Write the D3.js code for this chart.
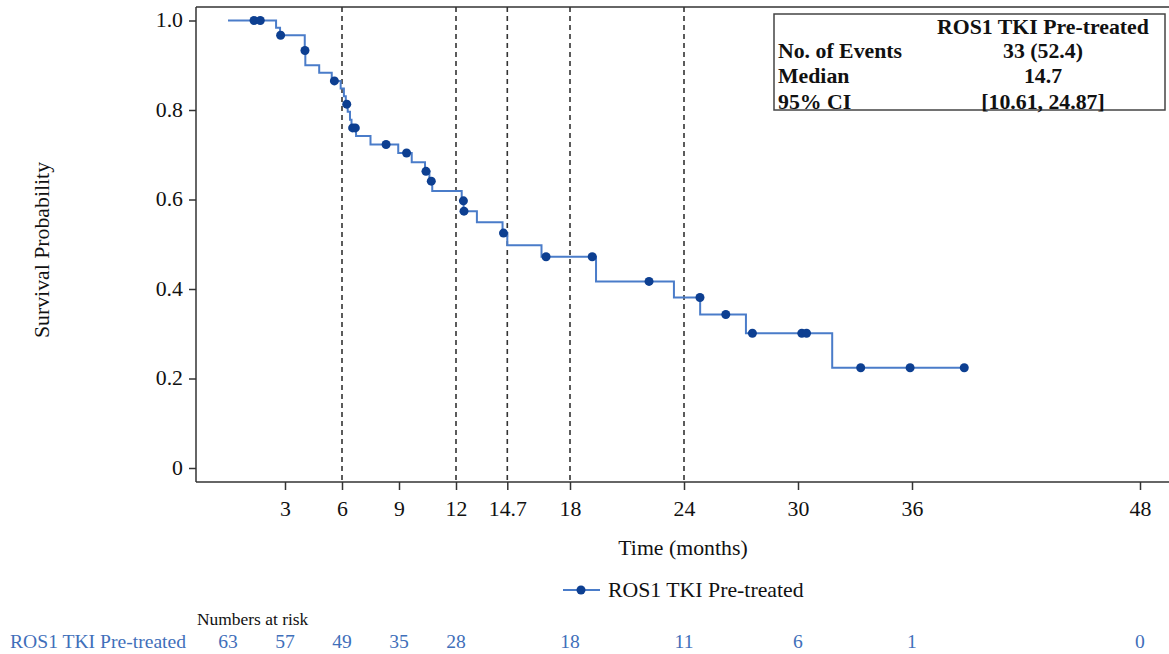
<!DOCTYPE html>
<html>
<head>
<meta charset="utf-8">
<script src="https://cdn.jsdelivr.net/npm/d3@7"></script>
<style>
  html, body { margin: 0; padding: 0; background: #fff; }
  text { font-family: "Liberation Serif", "Times New Roman", serif; }
</style>
</head>
<body>
<svg id="chart" width="1169" height="654"></svg>
<script>
// ---------- data ----------
const seriesName = "ROS1 TKI Pre-treated";
const eventTimes = [2.53, 2.74, 4.04, 4.07, 4.80, 5.46, 5.93, 6.10, 6.20, 6.30, 6.42, 6.50, 6.74, 7.50, 8.96, 9.67, 10.37, 10.60, 10.75, 12.30, 12.40, 13.10, 14.45, 14.70, 16.50, 19.37, 23.47, 24.85, 27.26, 31.80];
const eventSurv  = [0.984, 0.967, 0.933, 0.900, 0.883, 0.865, 0.848, 0.831, 0.813, 0.796, 0.778, 0.760, 0.742, 0.723, 0.704, 0.683, 0.663, 0.641, 0.619, 0.597, 0.574, 0.549, 0.525, 0.498, 0.472, 0.417, 0.381, 0.343, 0.301, 0.224];
const censorTimes = [1.37, 1.70, 2.77, 4.05, 5.60, 6.25, 6.56, 6.70, 8.32, 9.40, 10.42, 10.70, 12.39, 12.42, 14.50, 16.74, 19.17, 22.16, 24.84, 26.20, 27.60, 30.20, 30.45, 33.30, 35.90, 38.75];
const lastTime = 38.75;
const xTicks = [3, 6, 9, 12, 14.7, 18, 24, 30, 36, 48];
const yTicks = [0, 0.2, 0.4, 0.6, 0.8, 1.0];
const refLines = [6, 12, 14.7, 18, 24];
const riskTimes = [0, 3, 6, 9, 12, 18, 24, 30, 36, 48];
const riskCounts = [63, 57, 49, 35, 28, 18, 11, 6, 1, 0];
const tableRows = ["No. of Events", "Median", "95% CI"];
const tableVals = ["33 (52.4)", "14.7", "[10.61, 24.87]"];

// ---------- layout ----------
const svg = d3.select("#chart");
const x = d3.scaleLinear().domain([0, 48]).range([228, 1140]);
const y = d3.scaleLinear().domain([0, 1]).range([468, 20.5]);
const axisColor = "#333";
const lineColor = "#4a7cc9";
const dotColor = "#0d3f91";
const riskColor = "#3f6fba";
const frameTop = 7, frameBottom = 482, frameLeft = 196, frameRight = 1169;
const SX = 1.09;
function stretch(sel, origin) {
  sel.style("transform-box", "fill-box").style("transform-origin", origin)
     .style("transform", `scaleX(${SX})`);
  return sel;
}

svg.append("rect").attr("width", 1169).attr("height", 654).attr("fill", "#fff");

// frame lines (left, top)
svg.append("line").attr("x1", frameLeft).attr("x2", frameLeft).attr("y1", frameTop).attr("y2", frameBottom)
  .attr("stroke", axisColor).attr("stroke-width", 1.5);
svg.append("line").attr("x1", frameLeft).attr("x2", frameRight).attr("y1", frameTop).attr("y2", frameTop)
  .attr("stroke", axisColor).attr("stroke-width", 1.5);

// y axis
const yAxis = d3.axisLeft(y).tickValues(yTicks).tickSize(7).tickPadding(6)
  .tickFormat(d => d === 0 ? "0" : d3.format(".1f")(d));
const gy = svg.append("g").attr("transform", `translate(${frameLeft},0)`).call(yAxis);
gy.select(".domain").remove();
gy.selectAll(".tick line").attr("stroke", axisColor).attr("stroke-width", 1.5);
stretch(gy.selectAll(".tick text").attr("font-size", 20).attr("fill", "#111")
  .style("font-family", "'Liberation Serif', serif"), "right center");

// x axis
const xAxis = d3.axisBottom(x).tickValues(xTicks).tickSize(8).tickPadding(12)
  .tickFormat(d => String(d));
const gx = svg.append("g").attr("transform", `translate(0,${frameBottom})`).call(xAxis);
gx.select(".domain").remove();
gx.selectAll(".tick line").attr("stroke", axisColor).attr("stroke-width", 1.5);
stretch(gx.selectAll(".tick text").attr("font-size", 20).attr("fill", "#111")
  .style("font-family", "'Liberation Serif', serif"), "center");
svg.append("line").attr("x1", frameLeft).attr("x2", frameRight).attr("y1", frameBottom).attr("y2", frameBottom)
  .attr("stroke", axisColor).attr("stroke-width", 1.5);

// reference dashed lines
svg.append("g").selectAll("line").data(refLines).join("line")
  .attr("x1", d => x(d)).attr("x2", d => x(d))
  .attr("y1", frameTop).attr("y2", frameBottom)
  .attr("stroke", "#333").attr("stroke-width", 1.6).attr("stroke-dasharray", "5,4");

// axis titles
stretch(svg.append("text").attr("x", 683).attr("y", 548).attr("dy", "0.35em").attr("text-anchor", "middle")
  .attr("font-size", 20).attr("fill", "#111").text("Time (months)"), "center");
stretch(svg.append("g").attr("transform", "translate(42,250) rotate(-90)")
  .append("text").attr("dy", "0.35em")
  .attr("text-anchor", "middle").attr("font-size", 20).attr("fill", "#111").text("Survival Probability"), "center");

// KM curve
const pts = [[0, 1]].concat(eventTimes.map((t, i) => [t, eventSurv[i]]));
pts.push([lastTime, eventSurv[eventSurv.length - 1]]);
const line = d3.line().x(d => x(d[0])).y(d => y(d[1])).curve(d3.curveStepAfter);
svg.append("path").datum(pts).attr("d", line).attr("fill", "none")
  .attr("stroke", lineColor).attr("stroke-width", 2);

function survAt(t) {
  let s = 1;
  for (let i = 0; i < eventTimes.length; i++) if (eventTimes[i] <= t) s = eventSurv[i];
  return s;
}
svg.append("g").selectAll("circle").data(censorTimes).join("circle")
  .attr("cx", d => x(d)).attr("cy", d => y(survAt(d))).attr("r", 4.5).attr("fill", dotColor);

// stats table
const tb = svg.append("g");
tb.append("rect").attr("x", 774).attr("y", 14).attr("width", 391).attr("height", 96)
  .attr("fill", "#fff").attr("stroke", "#444").attr("stroke-width", 1.5);
stretch(tb.append("text").attr("x", 1043).attr("y", 27).attr("dy", "0.35em").attr("text-anchor", "middle")
  .attr("font-size", 20).attr("font-weight", "bold").attr("fill", "#111").text(seriesName), "center");
tableRows.forEach((r, i) => {
  const yy = 51 + i * 25.3;
  stretch(tb.append("text").attr("x", 778).attr("y", yy).attr("dy", "0.35em")
    .attr("font-size", 20).attr("font-weight", "bold").attr("fill", "#111").text(r), "left center");
  stretch(tb.append("text").attr("x", 1043).attr("y", yy).attr("dy", "0.35em").attr("text-anchor", "middle")
    .attr("font-size", 20).attr("font-weight", "bold").attr("fill", "#111").text(tableVals[i]), "center");
});

// legend
const lg = svg.append("g");
lg.append("line").attr("x1", 563).attr("x2", 600).attr("y1", 590).attr("y2", 590)
  .attr("stroke", lineColor).attr("stroke-width", 2);
lg.append("circle").attr("cx", 581).attr("cy", 590).attr("r", 4.5).attr("fill", dotColor);
stretch(lg.append("text").attr("x", 608).attr("y", 590).attr("dy", "0.35em").attr("font-size", 20)
  .attr("fill", "#111").text(seriesName), "left center");

// numbers at risk
stretch(svg.append("text").attr("x", 197).attr("y", 619).attr("dy", "0.35em").attr("font-size", 16)
  .attr("fill", "#111").text("Numbers at risk"), "left center");
stretch(svg.append("text").attr("x", 10).attr("y", 642).attr("dy", "0.35em").attr("font-size", 18)
  .attr("fill", riskColor).text(seriesName), "left center");
stretch(svg.append("g").selectAll("text").data(riskTimes).join("text")
  .attr("x", d => x(d)).attr("y", 642).attr("dy", "0.35em").attr("text-anchor", "middle")
  .attr("font-size", 18).attr("fill", riskColor).text((d, i) => riskCounts[i]), "center");
</script>
</body>
</html>
